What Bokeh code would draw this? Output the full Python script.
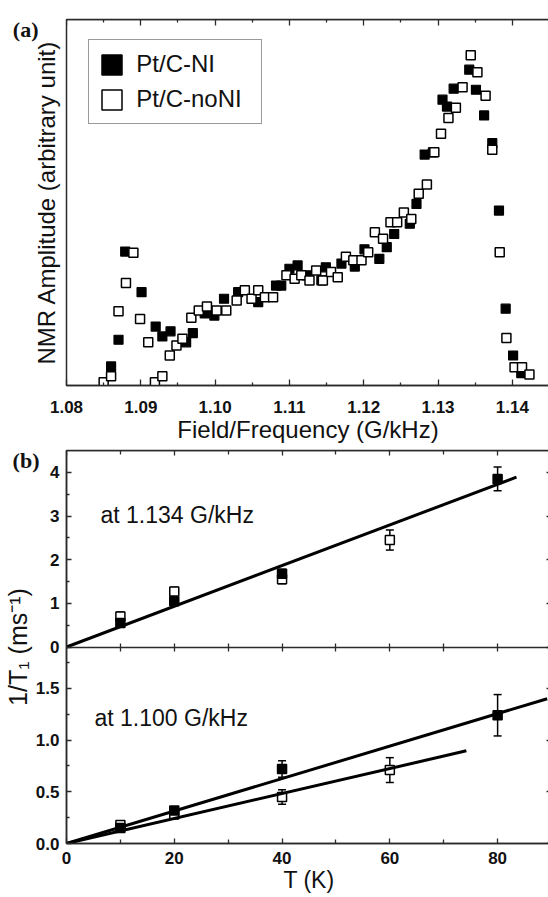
import numpy as np
from bokeh.plotting import figure
from bokeh.layouts import column
from bokeh.models import (ColumnDataSource, LinearAxis, FixedTicker, Range1d, Label,
                          Legend, LegendItem, Whisker, TeeHead, CustomJSTickFormatter,
                          PrintfTickFormatter)
from bokeh.embed import file_html
from bokeh.resources import INLINE

# ---------------- Panel (a): NMR spectra ----------------
a_ni_x = [1.0860, 1.0870, 1.0879, 1.0901, 1.0920, 1.0929, 1.0940, 1.0961, 1.0970, 1.0986,
          1.0999, 1.1012, 1.1031, 1.1058, 1.1082, 1.1089, 1.1100, 1.1111, 1.1123, 1.1143,
          1.1149, 1.1170, 1.1188, 1.1201, 1.1221, 1.1231, 1.1241, 1.1262, 1.1271, 1.1282,
          1.1293, 1.1306, 1.1312, 1.1321, 1.1342, 1.1351, 1.1362, 1.1373, 1.1382, 1.1391,
          1.1401, 1.1412]
a_ni_y = [5.2, 12.5, 36.6, 25.5, 16.1, 13.4, 14.8, 11.8, 14.3, 19.7,
          19.1, 23.7, 25.5, 22.8, 27.3, 27.3, 31.9, 32.8, 30.1, 28.7,
          32.3, 33.3, 32.5, 37.2, 34.6, 37.8, 41.4, 44.2, 49.6, 63.1,
          63.7, 78.1, 76.2, 81.1, 86.3, 80.8, 73.8, 66.2, 47.8, 21.0,
          8.2, 3.4]
a_noni_x = [1.0850, 1.0860, 1.0870, 1.0880, 1.0890, 1.0899, 1.0910, 1.0919, 1.0929, 1.0939,
            1.0948, 1.0956, 1.0968, 1.0978, 1.0989, 1.1002, 1.1015, 1.1029, 1.1040, 1.1049,
            1.1058, 1.1067, 1.1078, 1.1096, 1.1107, 1.1116, 1.1127, 1.1136, 1.1145, 1.1156,
            1.1165, 1.1176, 1.1186, 1.1197, 1.1206, 1.1215, 1.1226, 1.1236, 1.1245, 1.1254,
            1.1264, 1.1274, 1.1285, 1.1295, 1.1304, 1.1314, 1.1324, 1.1333, 1.1344, 1.1353,
            1.1364, 1.1373, 1.1383, 1.1392, 1.1403, 1.1413, 1.1423]
a_noni_y = [0.9, 2.5, 20.3, 28.0, 36.3, 18.2, 11.8, 0.9, 2.5, 8.2,
            10.9, 12.8, 18.5, 20.5, 21.6, 20.5, 20.5, 23.2, 26.0, 23.7,
            26.0, 24.1, 24.1, 30.1, 29.2, 30.1, 28.7, 31.4, 28.7, 31.0,
            29.6, 35.2, 34.2, 34.2, 36.4, 41.9, 40.1, 44.6, 44.6, 47.3,
            45.5, 52.4, 54.9, 63.7, 68.8, 73.1, 75.9, 81.5, 90.2, 85.6,
            79.2, 64.4, 36.4, 13.0, 5.0, 5.0, 3.0]
a_x_range = [1.08, 1.145]
a_y_range = [0, 100]
a_xticks = [1.08, 1.09, 1.10, 1.11, 1.12, 1.13, 1.14]
a_xminor = [1.085, 1.095, 1.105, 1.115, 1.125, 1.135]
a_labels = ["Pt/C-NI", "Pt/C-noNI"]

# ---------------- Panel (b): 1/T1 vs T ----------------
b_x_range = [0, 90]
b_top_range = [0, 4.5]       # at 1.134 G/kHz
b_bot_range = [0, 1.9]       # at 1.100 G/kHz
b_xticks = [0, 20, 40, 60, 80]
b_xminor = [10, 30, 50, 70, 90]
b_mid_ticks = [10, 20, 30, 40, 50, 60, 70, 80]
b_top_ticks = [0, 1, 2, 3, 4]
b_top_minor = [0.5, 1.5, 2.5, 3.5]
b_bot_ticks = [0.0, 0.5, 1.0, 1.5]
b_bot_minor = [0.25, 0.75, 1.25, 1.75]

t134_ni_T = [10, 20, 40, 80]
t134_ni_y = [0.55, 1.05, 1.68, 3.85]
t134_ni_err = [0.08, 0.08, 0.10, 0.27]
t134_noni_T = [10, 20, 40, 60]
t134_noni_y = [0.70, 1.27, 1.55, 2.45]
t134_noni_err = [0.10, 0.10, 0.10, 0.23]
t134_fit_T = [0, 83.5]
t134_fit_y = [0, 3.89]

t100_ni_T = [10, 20, 40, 80]
t100_ni_y = [0.15, 0.32, 0.72, 1.24]
t100_ni_err = [0.03, 0.03, 0.08, 0.20]
t100_noni_T = [10, 20, 40, 60]
t100_noni_y = [0.18, 0.28, 0.45, 0.71]
t100_noni_err = [0.04, 0.03, 0.07, 0.12]
t100_ni_fit_T = [0, 89.2]
t100_ni_fit_y = [0, 1.40]
t100_noni_fit_T = [0, 74.2]
t100_noni_fit_y = [0, 0.896]

FONT = "Liberation Sans"
SERIF = "Liberation Serif"
INK = "#111111"
FRAME = "#2a2a2a"


def style_axis(ax, tick_in=6, minor_in=3, labels=True, size="17px"):
    ax.axis_line_color = FRAME
    ax.axis_line_width = 1.5
    ax.major_tick_line_color = FRAME
    ax.major_tick_line_width = 1.3
    ax.minor_tick_line_color = FRAME
    ax.minor_tick_line_width = 1.3
    ax.major_tick_in = tick_in
    ax.major_tick_out = 0
    ax.minor_tick_in = minor_in
    ax.minor_tick_out = 0
    if labels:
        ax.major_label_text_font = FONT
        ax.major_label_text_font_style = "bold"
        ax.major_label_text_font_size = size
        ax.major_label_text_color = INK
    else:
        ax.major_label_text_color = None
        ax.major_label_standoff = 0
    ax.axis_label_text_font = FONT
    ax.axis_label_text_font_style = "normal"
    ax.axis_label_text_color = INK


def tag_axis(ticks, text, standoff, label, label_standoff, label_size):
    """Left axis whose only tick label is the panel letter; it also carries the axis title."""
    ax = LinearAxis(ticker=FixedTicker(ticks=ticks),
                    formatter=CustomJSTickFormatter(code=f"return '{text}';"),
                    axis_label=label)
    ax.axis_line_color = None
    ax.major_tick_line_color = None
    ax.minor_tick_line_color = None
    ax.major_tick_in = 0
    ax.major_tick_out = 0
    ax.minor_tick_in = 0
    ax.minor_tick_out = 0
    ax.major_label_standoff = standoff
    ax.major_label_text_font = SERIF
    ax.major_label_text_font_style = "bold"
    ax.major_label_text_font_size = "22px"
    ax.major_label_text_color = INK
    ax.axis_label_standoff = label_standoff
    ax.axis_label_text_font = FONT
    ax.axis_label_text_font_style = "normal"
    ax.axis_label_text_font_size = label_size
    ax.axis_label_text_color = INK
    return ax


# ================= figure (a) =================
pa = figure(frame_width=483, frame_height=366,
            min_border_left=63, min_border_right=2, min_border_top=19, min_border_bottom=61,
            x_range=Range1d(*a_x_range), y_range=Range1d(*a_y_range),
            x_axis_type=None, y_axis_type=None,
            output_backend="svg", toolbar_location=None)
pa.outline_line_color = FRAME
pa.outline_line_width = 1.5
pa.background_fill_color = "white"
pa.border_fill_color = "white"

ax = LinearAxis(ticker=FixedTicker(ticks=a_xticks, minor_ticks=a_xminor),
                formatter=PrintfTickFormatter(format="%.2f"),
                axis_label="Field/Frequency (G/kHz)")
style_axis(ax)
ax.major_label_standoff = 15
ax.axis_label_standoff = 0
ax.axis_label_text_font_size = "24px"
pa.add_layout(ax, "below")

ax = LinearAxis(ticker=FixedTicker(ticks=a_xticks, minor_ticks=a_xminor),
                fixed_location=a_y_range[1])
style_axis(ax, labels=False)
pa.add_layout(ax, "above")

pa.add_layout(tag_axis([97.3], "(a)", 28, "NMR Amplitude (arbitrary unit)", -50, "24px"), "left")

src_ni = ColumnDataSource(dict(x=a_ni_x, y=a_ni_y))
src_noni = ColumnDataSource(dict(x=a_noni_x, y=a_noni_y))
pa.scatter("x", "y", source=src_ni, marker="square", size=9,
           fill_color="black", line_color="black", line_width=1.2)
pa.scatter("x", "y", source=src_noni, marker="square", size=9,
           fill_color="white", line_color="black", line_width=1.5)

# legend swatches (no visible data)
leg_ni = pa.rect(x=np.array([np.nan]), y=np.array([np.nan]), width=1, height=1,
                 fill_color="black", line_color="black", line_width=1.5)
leg_noni = pa.rect(x=np.array([np.nan]), y=np.array([np.nan]), width=1, height=1,
                   fill_color="white", line_color="black", line_width=1.5)
legend = Legend(items=[LegendItem(label=a_labels[0], renderers=[leg_ni]),
                       LegendItem(label=a_labels[1], renderers=[leg_noni])],
                location=(42, 261), orientation="vertical",
                glyph_width=25, glyph_height=25, label_standoff=12, label_width=115,
                padding=10, spacing=7, margin=0,
                label_text_font=FONT, label_text_font_size="24px", label_text_color=INK,
                border_line_color="#333333", border_line_width=1.2,
                background_fill_color="white", background_fill_alpha=1.0)
pa.add_layout(legend, "center")

# ================= figure (b) =================
split = b_bot_range[1]
scale_top = (b_bot_range[1] - b_bot_range[0]) / (b_top_range[1] - b_top_range[0])
pb = figure(frame_width=485, frame_height=393,
            min_border_left=61, min_border_right=2, min_border_top=4, min_border_bottom=54,
            x_range=Range1d(*b_x_range), y_range=Range1d(b_bot_range[0], 2 * b_bot_range[1]),
            x_axis_type=None, y_axis_type=None,
            output_backend="svg", toolbar_location=None)
pb.extra_y_ranges = {"top": Range1d(-b_top_range[1], b_top_range[1])}
pb.outline_line_color = FRAME
pb.outline_line_width = 1.5
pb.background_fill_color = "white"
pb.border_fill_color = "white"

y_ticks = b_bot_ticks + [split + v * scale_top for v in b_top_ticks]
y_minor = b_bot_minor + [split + v * scale_top for v in b_top_minor]
fmt = CustomJSTickFormatter(code=f"""
    const split = {split};
    const k = {1.0 / scale_top};
    if (tick > split - 1e-6) {{ return Math.round((tick - split) * k).toString(); }}
    return tick.toFixed(1);
""")

ax = LinearAxis(ticker=FixedTicker(ticks=y_ticks, minor_ticks=y_minor), formatter=fmt)
style_axis(ax, tick_in=5, minor_in=3)
ax.major_label_standoff = 7
pb.add_layout(ax, "left")

pb.add_layout(tag_axis([3.707], "(b)", -7, "1/T\u2081 (ms\u207b\u00b9)", -22, "25px"), "left")

ax = LinearAxis(ticker=FixedTicker(ticks=y_ticks, minor_ticks=y_minor),
                fixed_location=b_x_range[1])
style_axis(ax, tick_in=5, minor_in=3, labels=False)
pb.add_layout(ax, "right")

ax = LinearAxis(ticker=FixedTicker(ticks=b_xticks, minor_ticks=b_xminor),
                formatter=PrintfTickFormatter(format="%d"), axis_label="T (K)")
style_axis(ax, tick_in=5, minor_in=4)
ax.major_label_standoff = 8
ax.axis_label_standoff = 0
ax.axis_label_text_font_size = "23px"
pb.add_layout(ax, "below")

ax = LinearAxis(ticker=FixedTicker(ticks=b_xticks, minor_ticks=b_xminor),
                fixed_location=2 * b_bot_range[1])
style_axis(ax, tick_in=5, minor_in=4, labels=False)
pb.add_layout(ax, "above")

ax = LinearAxis(ticker=FixedTicker(ticks=b_mid_ticks), fixed_location=split)
style_axis(ax, tick_in=4, minor_in=0, labels=False)
ax.major_tick_out = 4
pb.add_layout(ax, "below")


def add_series(T, y, err, filled, range_name):
    kw = {} if range_name is None else {"y_range_name": range_name}
    src = ColumnDataSource(dict(T=T, y=y,
                                upper=[a + b for a, b in zip(y, err)],
                                lower=[a - b for a, b in zip(y, err)]))
    w = Whisker(source=src, base="T", upper="upper", lower="lower", dimension="height",
                line_color="black", line_width=1.5,
                upper_head=TeeHead(size=8, line_width=1.5, line_color="black"),
                lower_head=TeeHead(size=8, line_width=1.5, line_color="black"), **kw)
    pb.add_layout(w)
    pb.scatter("T", "y", source=src, marker="square", size=9,
               fill_color="black" if filled else "white", line_color="black",
               line_width=1.5, **kw)


add_series(t134_noni_T, t134_noni_y, t134_noni_err, False, "top")
add_series(t134_ni_T, t134_ni_y, t134_ni_err, True, "top")
add_series(t100_noni_T, t100_noni_y, t100_noni_err, False, None)
add_series(t100_ni_T, t100_ni_y, t100_ni_err, True, None)

pb.line(t134_fit_T, t134_fit_y, line_color="black", line_width=3, y_range_name="top")
pb.line(t100_ni_fit_T, t100_ni_fit_y, line_color="black", line_width=3)
pb.line(t100_noni_fit_T, t100_noni_fit_y, line_color="black", line_width=3)

pb.add_layout(Label(x=34, y=329, x_units="screen", y_units="screen", text="at 1.134 G/kHz",
                    text_font=FONT, text_font_size="23px", text_color=INK,
                    text_baseline="middle", text_align="left"))
pb.add_layout(Label(x=28, y=126, x_units="screen", y_units="screen", text="at 1.100 G/kHz",
                    text_font=FONT, text_font_size="23px", text_color=INK,
                    text_baseline="middle", text_align="left"))

layout = column(pa, pb, spacing=0)
open("out.html", "w").write(file_html(layout, INLINE))
